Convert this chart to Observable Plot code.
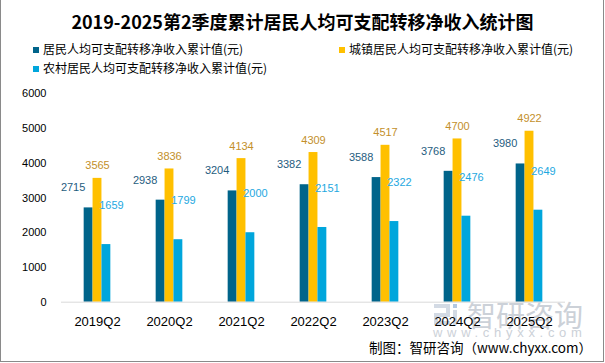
<!DOCTYPE html>
<html><head><meta charset="utf-8">
<script src="https://cdn.jsdelivr.net/npm/d3@7"></script>
<script src="https://cdn.jsdelivr.net/npm/@observablehq/plot@0.6"></script>
<style>
body{margin:0;background:#fff;}
#wrap{position:relative;width:605px;height:363px;overflow:hidden;background:#fff;font-family:"Noto Sans CJK SC","Noto Sans",sans-serif;}
#frame{position:absolute;left:0;top:-1px;width:604px;height:363px;box-sizing:border-box;border:1px solid #8a8a8a;pointer-events:none;}
#title{position:absolute;left:0;width:605px;top:8px;text-align:center;font-weight:bold;font-size:18px;line-height:26px;color:#000;}
.leg{position:absolute;font-size:12px;line-height:16px;color:#000;white-space:nowrap;}
.sw{display:inline-block;width:6px;height:6px;margin-right:4px;vertical-align:1px;}
#caption{position:absolute;right:13px;top:337px;font-size:13.5px;line-height:20px;color:#000;white-space:nowrap;}
#wm1{position:absolute;left:467px;top:298px;font-size:29px;line-height:32px;color:#ccd1d8;white-space:nowrap;}
#wm2{position:absolute;left:433px;top:325px;font-size:13px;line-height:16px;letter-spacing:4.7px;color:#ccd1d8;font-family:"Liberation Sans",sans-serif;white-space:nowrap;}
.lg{position:absolute;background:#d3dae4;}
#chart{position:absolute;left:0;top:0;}
</style></head>
<body>
<div id="wrap">
  <div class="lg" style="left:434px;top:304px;width:16px;height:4px"></div>
  <div class="lg" style="left:446px;top:304px;width:4px;height:12px"></div>
  <div class="lg" style="left:434px;top:313px;width:16px;height:4px"></div>
  <div class="lg" style="left:434px;top:313px;width:4px;height:12px"></div>
  <div class="lg" style="left:434px;top:321px;width:16px;height:4px"></div>
  <div class="lg" style="left:453px;top:304px;width:4px;height:4px;background:#b3c8e2"></div>
  <div class="lg" style="left:453px;top:310px;width:4px;height:15px"></div>
  <div id="wm1">智研咨询</div>
  <div id="wm2">www.chyxx.com</div>
  <div id="chart"></div>
  <div id="title"></div>
  <div id="legend"></div>
  <div id="caption">制图：智研咨询（www.chyxx.com）</div>
  <div id="frame"></div>
</div>
<script>
const titleText = "2019-2025第2季度累计居民人均可支配转移净收入统计图";
const categories = ["2019Q2","2020Q2","2021Q2","2022Q2","2023Q2","2024Q2","2025Q2"];
const seriesNames = ["居民人均可支配转移净收入累计值(元)","城镇居民人均可支配转移净收入累计值(元)","农村居民人均可支配转移净收入累计值(元)"];
const totalValues = [2715,2938,3204,3382,3588,3768,3980];
const urbanValues = [3565,3836,4134,4309,4517,4700,4922];
const ruralValues = [1659,1799,2000,2151,2322,2476,2649];
const yTicks = [0,1000,2000,3000,4000,5000,6000];

const colors = ["#00648a","#ffc000","#00a6dc"];
const labelColors = ["#1f5d80","#c38f2b","#1ea8df"];

document.getElementById("title").textContent = titleText;

// legend
const legPos = [[33,41],[339,41],[33,60]];
const legend = document.getElementById("legend");
seriesNames.forEach((s,i)=>{
  const d = document.createElement("div");
  d.className = "leg";
  d.style.left = legPos[i][0] + "px";
  d.style.top = legPos[i][1] + "px";
  d.innerHTML = `<span class="sw" style="background:${colors[i]}"></span>${s}`;
  legend.appendChild(d);
});

const seriesValues = [totalValues, urbanValues, ruralValues];
const data = [];
categories.forEach((c,i)=>{
  seriesNames.forEach((s,j)=>{
    data.push({cat:c, series:s, idx:j, value:seriesValues[j][i]});
  });
});
const bySeries = j => data.filter(d=>d.idx===j);
const labelOffsets = [{dx:-15.5,dy:-20},{dx:0,dy:-12.5},{dx:5,dy:-39}];

const plot = Plot.plot({
  width:605, height:363,
  marginLeft:58, marginRight:37, marginTop:93.3, marginBottom:61.3,
  style:{background:"transparent", fontFamily:"'Liberation Sans', sans-serif", color:"#000"},
  fx:{domain:categories, padding:0, axis:null},
  x:{domain:seriesNames, paddingInner:0, paddingOuter:2.55, round:false, axis:null},
  y:{domain:[0,6000], axis:null},
  color:{domain:seriesNames, range:colors},
  marks:[
    Plot.axisY({ticks:yTicks, tickSize:0, tickPadding:15, fontSize:11, label:null, tickFormat:d=>String(d)}),
    Plot.axisFx({anchor:"bottom", tickSize:0, tickPadding:15, fontSize:13, label:null}),
    Plot.barY(data, {fx:"cat", x:"series", y:"value", fill:"series"}),
    Plot.ruleY([0], {stroke:"#d9d9d9", strokeWidth:1}),
    ...[0,1,2].map(j => Plot.text(bySeries(j), {
      fx:"cat", x:"series", y:"value", text:d=>String(d.value),
      fill:labelColors[j], fontSize:11, dx:labelOffsets[j].dx, dy:labelOffsets[j].dy
    }))
  ]
});
document.getElementById("chart").appendChild(plot);
</script>
</body></html>
